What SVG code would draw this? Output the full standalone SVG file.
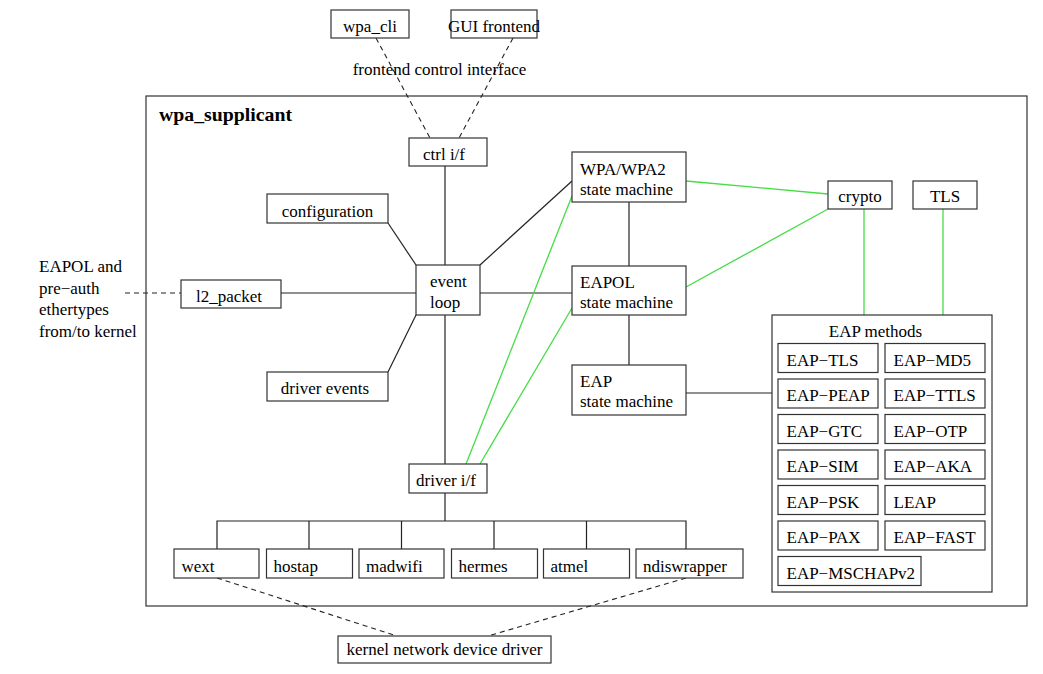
<svg xmlns="http://www.w3.org/2000/svg" width="1043" height="674" viewBox="0 0 1043 674">
<style>
text{font-family:"Liberation Serif","Times New Roman",serif;font-size:17px;fill:#000}
.c{text-anchor:middle}
.b{fill:#fff;stroke:#333;stroke-width:1.2}
.ln{stroke:#222;stroke-width:1.2;fill:none}
.d{stroke:#222;stroke-width:1.1;fill:none;stroke-dasharray:5,4}
.g{stroke:#44dd44;stroke-width:1.3;fill:none}
</style>
<rect width="1043" height="674" fill="#fff"/>
<g id="wpa_supplicant">
<rect class="b" x="146" y="96" width="881" height="510"/>
<text x="159" y="121" style="font-weight:bold;font-size:19.8px">wpa_supplicant</text>
</g>
<g id="connectors">
<line class="d" x1="376" y1="38" x2="430" y2="138"/>
<line class="d" x1="513" y1="38" x2="459" y2="138"/>
<line class="ln" x1="445" y1="166" x2="445" y2="265"/>
<line class="ln" x1="388" y1="223" x2="416" y2="265"/>
<line class="ln" x1="388" y1="372" x2="416" y2="315"/>
<line class="ln" x1="281" y1="293" x2="416" y2="293"/>
<line class="d" x1="125" y1="293" x2="181" y2="293"/>
<line class="ln" x1="480" y1="293" x2="572" y2="293"/>
<line class="ln" x1="480" y1="265" x2="572" y2="181"/>
<line class="ln" x1="445" y1="315" x2="445" y2="464"/>
<line class="ln" x1="629" y1="202" x2="629" y2="266"/>
<line class="ln" x1="629" y1="315" x2="629" y2="365"/>
<line class="ln" x1="686" y1="393" x2="772" y2="393"/>
<line class="g" x1="686" y1="181" x2="828" y2="194"/>
<line class="g" x1="686" y1="287" x2="828" y2="209"/>
<line class="g" x1="864" y1="209" x2="864" y2="315"/>
<line class="g" x1="943" y1="209" x2="943" y2="315"/>
<line class="g" x1="572" y1="196" x2="466" y2="464"/>
<line class="g" x1="572" y1="308" x2="480" y2="464"/>
<line class="ln" x1="445" y1="493" x2="445" y2="521"/>
<path class="ln" d="M217 549V521H686V549M309 521V549M401.5 521V549M494 521V549M586.5 521V549"/>
<line class="d" x1="217" y1="578" x2="397" y2="636"/>
<line class="d" x1="686" y1="578" x2="488" y2="636"/>
</g>
<g id="wpa_cli"><rect class="b" x="331" y="10" width="78" height="28"/><text class="c" x="370" y="31.5">wpa_cli</text></g>
<g id="gui_frontend"><rect class="b" x="451" y="10" width="86" height="28"/><text class="c" x="494" y="31.5">GUI frontend</text></g>
<g id="frontend_label"><text class="c" x="439.5" y="75">frontend control interface</text></g>
<g id="ctrl_if"><rect class="b" x="409" y="138" width="78" height="28"/><text class="c" x="444" y="159.5">ctrl i/f</text></g>
<g id="configuration"><rect class="b" x="267" y="194" width="121" height="29"/><text class="c" x="327.5" y="216.5">configuration</text></g>
<g id="event_loop"><rect class="b" x="416" y="265" width="64" height="50"/><text x="430" y="286.5">event</text><text x="430" y="308">loop</text></g>
<g id="l2_packet"><rect class="b" x="181" y="280" width="100" height="28"/><text class="c" x="229" y="301.5">l2_packet</text></g>
<g id="eapol_label"><text x="39" y="272">EAPOL and</text><text x="39" y="293.5">pre−auth</text><text x="39" y="315">ethertypes</text><text x="39" y="336.5">from/to kernel</text></g>
<g id="driver_events"><rect class="b" x="267" y="372" width="121" height="29"/><text class="c" x="325" y="393.5">driver events</text></g>
<g id="driver_if"><rect class="b" x="409" y="464" width="78" height="29"/><text class="c" x="446" y="486">driver i/f</text></g>
<g id="wpa_sm"><rect class="b" x="572" y="152" width="114" height="50"/><text x="580" y="175">WPA/WPA2</text><text x="580" y="194.5">state machine</text></g>
<g id="eapol_sm"><rect class="b" x="572" y="266" width="114" height="49"/><text x="580" y="288">EAPOL</text><text x="580" y="308">state machine</text></g>
<g id="eap_sm"><rect class="b" x="572" y="365" width="114" height="50"/><text x="580" y="387">EAP</text><text x="580" y="407">state machine</text></g>
<g id="crypto"><rect class="b" x="828" y="181" width="64" height="28"/><text class="c" x="860" y="202">crypto</text></g>
<g id="tls"><rect class="b" x="913" y="181" width="64" height="28"/><text class="c" x="945" y="202">TLS</text></g>
<g id="eap_methods">
<rect class="b" x="772" y="315" width="220" height="277"/>
<text class="c" x="875.5" y="336.5">EAP methods</text>
<rect class="b" x="778" y="343.5" width="100" height="29"/><text x="786.5" y="365.5">EAP−TLS</text>
<rect class="b" x="885" y="343.5" width="100" height="29"/><text x="893.5" y="365.5">EAP−MD5</text>
<rect class="b" x="778" y="379" width="100" height="29"/><text x="786.5" y="401">EAP−PEAP</text>
<rect class="b" x="885" y="379" width="100" height="29"/><text x="893.5" y="401">EAP−TTLS</text>
<rect class="b" x="778" y="414.5" width="100" height="29"/><text x="786.5" y="436.5">EAP−GTC</text>
<rect class="b" x="885" y="414.5" width="100" height="29"/><text x="893.5" y="436.5">EAP−OTP</text>
<rect class="b" x="778" y="450" width="100" height="29"/><text x="786.5" y="472">EAP−SIM</text>
<rect class="b" x="885" y="450" width="100" height="29"/><text x="893.5" y="472">EAP−AKA</text>
<rect class="b" x="778" y="485.5" width="100" height="29"/><text x="786.5" y="507.5">EAP−PSK</text>
<rect class="b" x="885" y="485.5" width="100" height="29"/><text x="893.5" y="507.5">LEAP</text>
<rect class="b" x="778" y="521" width="100" height="29"/><text x="786.5" y="543">EAP−PAX</text>
<rect class="b" x="885" y="521" width="100" height="29"/><text x="893.5" y="543">EAP−FAST</text>
<rect class="b" x="778" y="556.5" width="143" height="29"/><text x="786.5" y="578.5">EAP−MSCHAPv2</text>
</g>
<g id="wext"><rect class="b" x="174" y="549" width="85" height="29"/><text x="181.5" y="571.5">wext</text></g>
<g id="hostap"><rect class="b" x="266.5" y="549" width="86" height="29"/><text x="273.5" y="571.5">hostap</text></g>
<g id="madwifi"><rect class="b" x="359" y="549" width="85" height="29"/><text x="366" y="571.5">madwifi</text></g>
<g id="hermes"><rect class="b" x="451.5" y="549" width="86" height="29"/><text x="458.5" y="571.5">hermes</text></g>
<g id="atmel"><rect class="b" x="543.5" y="549" width="86" height="29"/><text x="550.5" y="571.5">atmel</text></g>
<g id="ndiswrapper"><rect class="b" x="636" y="549" width="107" height="29"/><text x="643" y="571.5">ndiswrapper</text></g>
<g id="kernel_driver"><rect class="b" x="338" y="636" width="213" height="27"/><text class="c" x="444.5" y="655">kernel network device driver</text></g>
</svg>
